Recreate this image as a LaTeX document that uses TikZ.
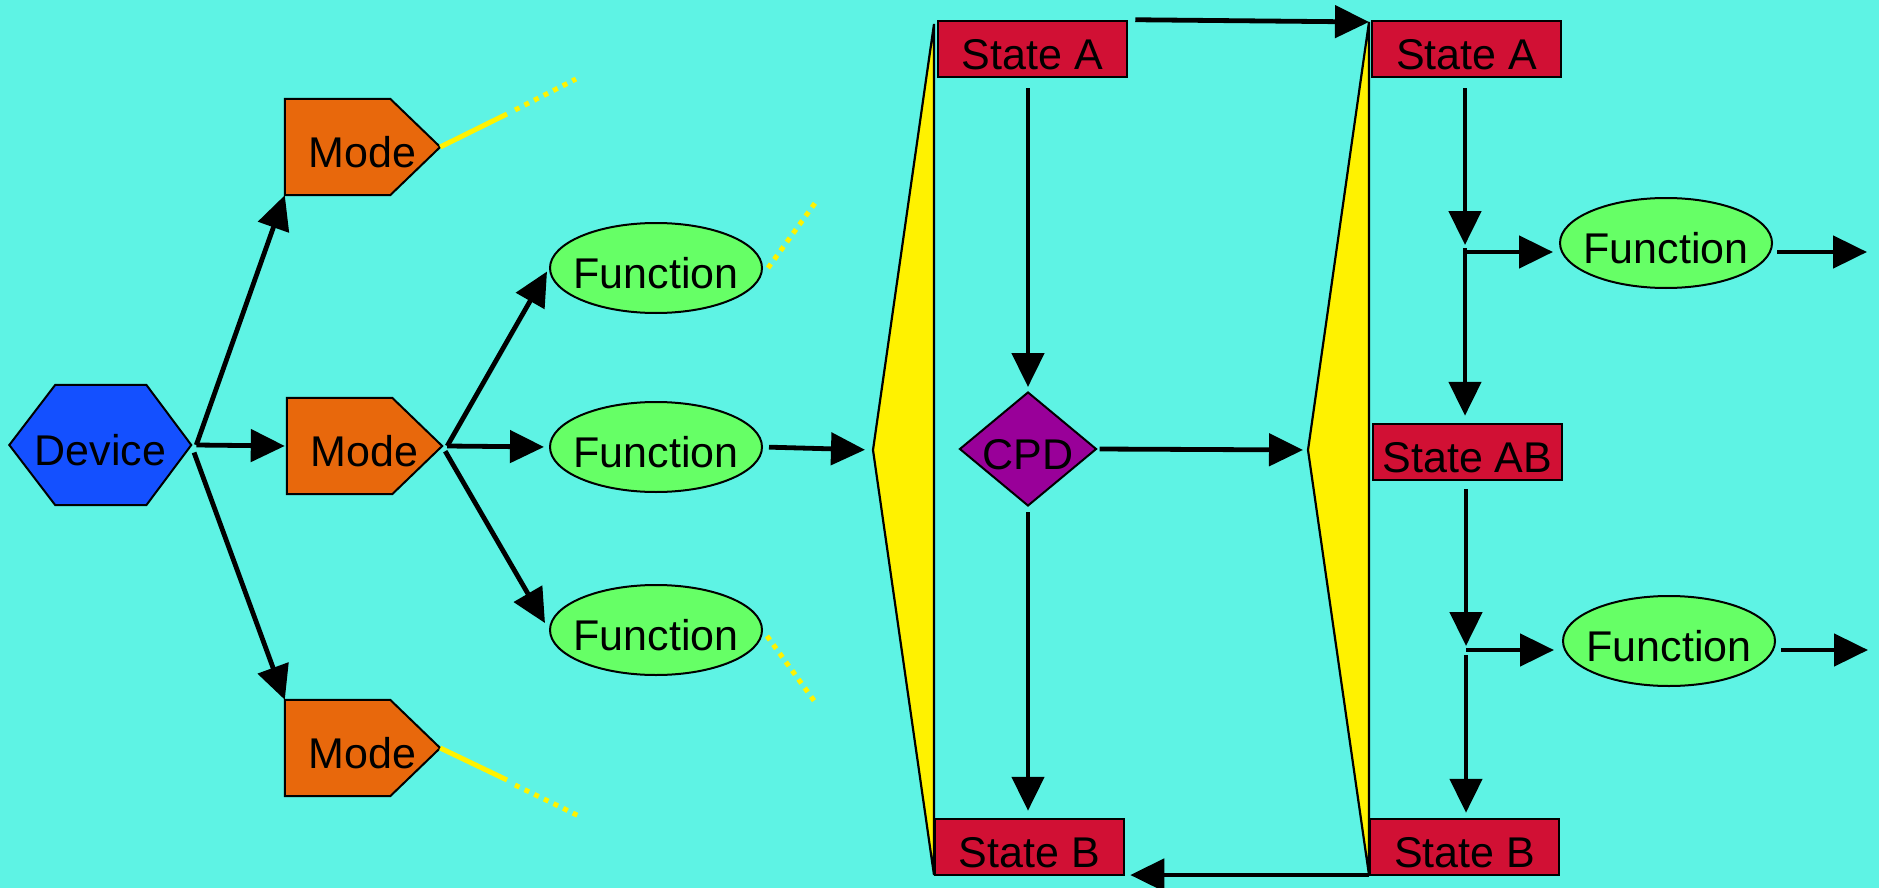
\documentclass[tikz,border=0pt]{standalone}
\usepackage{fontspec}
\setmainfont{Liberation Sans}
\usetikzlibrary{arrows.meta,shapes.geometric}
\pgfdeclarelayer{back}
\pgfsetlayers{back,main}

\definecolor{bg}{HTML}{5EF3E4}
\definecolor{devblue}{HTML}{1450FF}
\definecolor{modeorange}{HTML}{E8680C}
\definecolor{funcgreen}{HTML}{66FF66}
\definecolor{statered}{HTML}{D11034}
\definecolor{cpdpurple}{HTML}{990099}
\definecolor{ylw}{HTML}{FFF200}

\tikzset{
  lbl/.style={font=\fontsize{43}{50}\selectfont, text=black, inner sep=0pt,
    text height=41pt, text depth=0pt},
  pentbox/.style={lbl, rectangle, minimum width=155pt, minimum height=96pt},
  hexbox/.style={lbl, rectangle, minimum width=181.6pt, minimum height=120pt},
  funcnode/.style={lbl, ellipse, draw=black, line width=2pt, fill=funcgreen,
    minimum width=212pt, minimum height=90pt},
  statebox/.style={lbl, rectangle, draw=black, line width=2.5pt, fill=statered,
    minimum width=189pt, minimum height=56pt},
  cpdnode/.style={lbl, diamond, draw=black, line width=2pt, fill=cpdpurple,
    minimum width=137pt, minimum height=114pt},
  arr/.style={line width=4.8pt, -{Triangle[length=34pt,width=32pt]}},
  yline/.style={line width=5pt, draw=ylw},
  ydots/.style={yline, dash pattern=on 5pt off 5.7pt},
  wedge/.style={fill=ylw, draw=black, line width=2.2pt, line join=miter},
  outline/.style={draw=black, line width=2pt, line join=miter},
}
\newcommand{\cbox}[1]{\makebox[0pt][c]{#1}}

\begin{document}
\begin{tikzpicture}[x=1pt,y=-1pt]
\useasboundingbox (0,0) rectangle (1879,888);

% wedge-shaped dividers
\coordinate (w1t) at (934,24);
\coordinate (w1v) at (873,450);
\coordinate (w1b) at (934,875);
\coordinate (w2t) at (1369,22);
\coordinate (w2v) at (1308,450);
\coordinate (w2b) at (1369,875);
\filldraw[wedge] (w1t) -- (w1v) -- (w1b) -- cycle;
\filldraw[wedge] (w2t) -- (w2v) -- (w2b) -- cycle;

% device and modes
\node[hexbox] (dev) at (100.3,445) {Device};
\node[pentbox] (m1) at (362.5,147) {Mode\hspace{8pt}};
\node[pentbox] (m2) at (364.5,446) {Mode\hspace{8pt}};
\node[pentbox] (m3) at (362.5,748) {Mode\hspace{8pt}};

% functions
\node[funcnode] (fT) at (656,268) {\cbox{Function}};
\node[funcnode] (fM) at (656,447) {\cbox{Function}};
\node[funcnode] (fB) at (656,630) {\cbox{Function}};

% states
\node[statebox] (saL) at (1032.5,49) {State A};
\node[statebox] (sBL) at (1029.5,847) {State B};
\node[statebox] (saR) at (1466.5,49) {State A};
\node[statebox] (sAB) at (1467.5,452) {State AB};
\node[statebox] (sBR) at (1464.5,847) {State B};
\node[cpdnode] (cpd) at (1028,449) {\cbox{CPD}};

\node[funcnode] (fR1) at (1666,243) {\cbox{Function}};
\node[funcnode] (fR2) at (1669,641) {\cbox{Function}};

% outlines of the hexagon and the pentagon tags, behind their labels
\begin{pgfonlayer}{back}
  \fill[bg] (0,0) rectangle (1879,888);
  \filldraw[outline, fill=devblue] (dev.west) -- ([xshift=46pt]dev.north west)
    -- ([xshift=-45pt]dev.north east) -- (dev.east)
    -- ([xshift=-45pt]dev.south east) -- ([xshift=46pt]dev.south west) -- cycle;
  \foreach \m in {m1,m2,m3}{
    \filldraw[outline, fill=modeorange] (\m.north west)
      -- ([xshift=-50pt]\m.north east) -- (\m.east)
      -- ([xshift=-50pt]\m.south east) -- (\m.south west) -- cycle;
  }
\end{pgfonlayer}

% device to modes
\draw[arr] ([xshift=5pt]dev.east) -- (m1.south west);
\draw[arr, shorten >=2pt] ([xshift=5pt]dev.east) -- (m2.west);
\draw[arr, shorten <=8pt] (dev.east) -- (m3.north west);

% mode to functions
\draw[arr, shorten >=4pt] ([xshift=5pt]m2.east) -- (fT.west);
\draw[arr, shorten >=5pt] ([xshift=5pt]m2.east) -- (fM.west);
\draw[arr, shorten <=6pt, shorten >=8pt] (m2.east) -- (fB.west);

% open-ended branches
\coordinate (y1a) at (507,114);
\coordinate (y1b) at (515,110);
\coordinate (y1c) at (576,79);
\draw[yline] (m1.east) -- (y1a);
\draw[ydots] (y1b) -- (y1c);
\coordinate (y3a) at (507,780);
\coordinate (y3b) at (515,785);
\coordinate (y3c) at (581,817);
\draw[yline] (m3.east) -- (y3a);
\draw[ydots] (y3b) -- (y3c);
\coordinate (yTa) at (768,268);
\coordinate (yTb) at (818,199);
\draw[ydots] (yTa) -- (yTb);
\coordinate (yBa) at (767,636);
\coordinate (yBb) at (815,702);
\draw[ydots] (yBa) -- (yBb);

% into the first divider
\draw[arr, shorten <=6pt, shorten >=8pt] (fM.east) -- (w1v);

% central state transition
\draw[arr, shorten <=10pt, shorten >=4pt] (saL.south -| cpd.north) -- (cpd.north);
\draw[arr, shorten <=5pt, shorten >=7pt] (cpd.south) -- (cpd.south |- sBL.north);
\draw[arr, shorten <=2pt, shorten >=5pt] (cpd.east) -- (w2v);
\draw[arr] ([xshift=7pt]saL.north east) -- (w2t);
\draw[arr, shorten >=5pt] (w2b) -- (w2b -| sBL.east);

% right-hand column
\coordinate (b1) at (1465,252);
\coordinate (b2) at (1466,650);
\draw[arr, shorten <=10pt, shorten >=7pt] (saR.south -| b1) -- (b1);
\draw[arr, shorten >=6pt] (b1) -- (b1 -| fR1.west);
\draw[arr, shorten <=-4pt, shorten >=7pt] (b1) -- (b1 |- sAB.north);
\draw[arr, shorten <=8pt, shorten >=4pt] (sAB.south -| b2) -- (b2);
\draw[arr, shorten >=8pt] (b2) -- (b2 -| fR2.west);
\draw[arr, shorten <=5pt, shorten >=5pt] (b2) -- (b2 |- sBR.north);

\coordinate (o1) at (1867,252);
\coordinate (o2) at (1868,650);
\draw[arr, shorten <=4pt] (o1 -| fR1.east) -- (o1);
\draw[arr, shorten <=5pt] (o2 -| fR2.east) -- (o2);
\end{tikzpicture}
\end{document}
